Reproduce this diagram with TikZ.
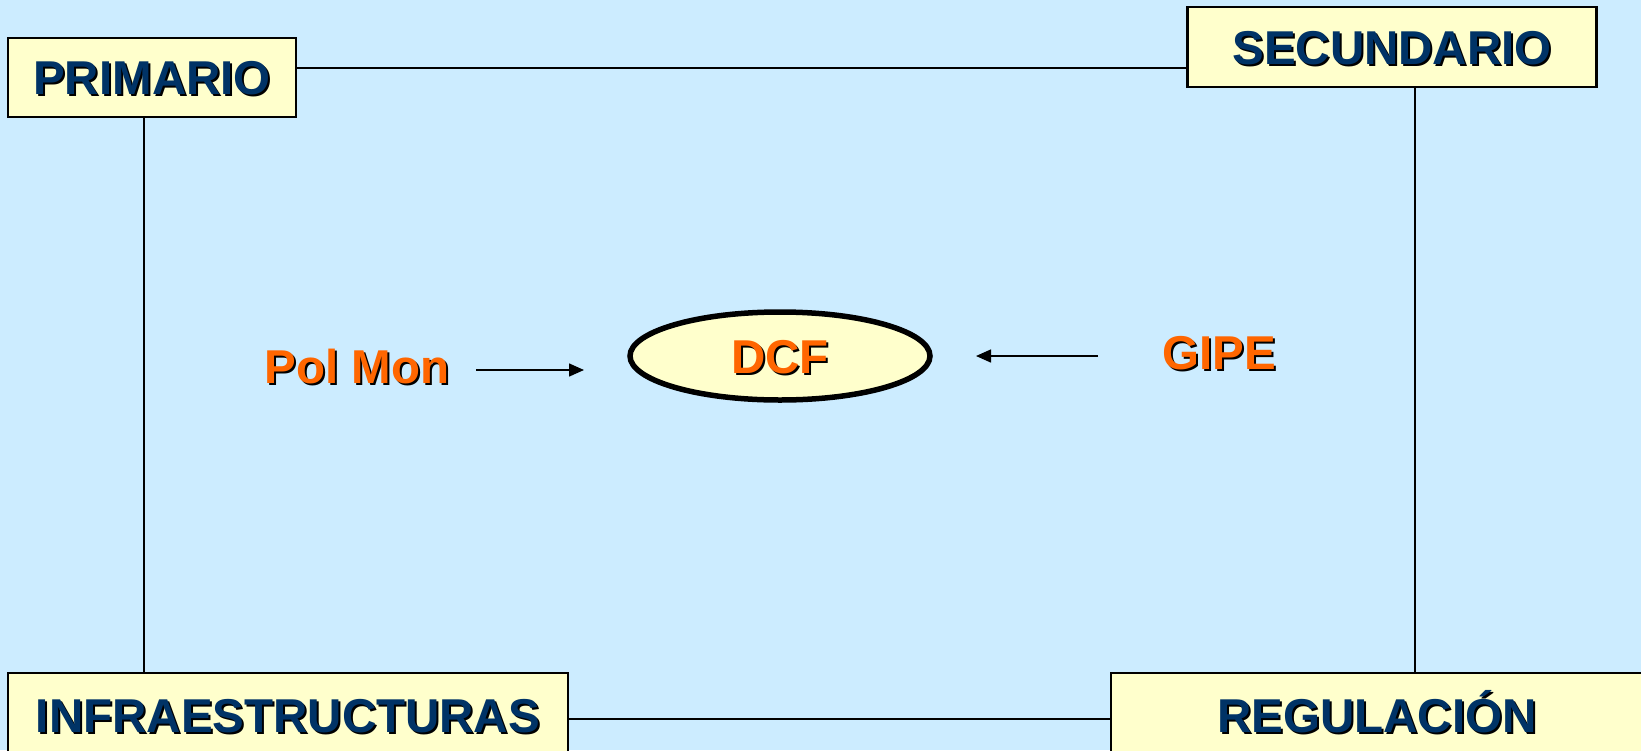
\documentclass[tikz,border=0pt]{standalone}
\usepackage{fontspec}
\setmainfont{Liberation Sans}
\usetikzlibrary{shapes.geometric,arrows.meta}
\definecolor{bgblue}{HTML}{CCECFF}
\definecolor{boxfill}{HTML}{FFFFCC}
\definecolor{navy}{HTML}{003366}
\definecolor{orng}{HTML}{FF6600}
\newcommand\shd[1]{\rlap{\kern2pt\raisebox{-2pt}{\color{black}#1}}#1}
\tikzset{
  lbl/.style={font=\fontsize{47.5}{57}\selectfont\bfseries, inner sep=0pt, text height=34pt, text depth=0pt},
  boxnode/.style={lbl, draw=black, line width=2.6pt, fill=boxfill, text=navy},
  orlbl/.style={lbl, text=orng},
  conn/.style={draw=black, line width=2pt},
  arr/.style={draw=black, line width=1.5pt, -{Triangle[length=15pt,width=13pt]}}
}
\begin{document}
\begin{tikzpicture}[x=1pt,y=-1pt]
\useasboundingbox (0,0) rectangle (1641,750);
\clip (0,0) rectangle (1641,750);
\fill[bgblue] (0,0) rectangle (1641,750);

\node[boxnode, minimum width=288pt, minimum height=79pt] (prim) at (152,77.5) {\shd{PRIMARIO}};
\node[boxnode, minimum width=409pt, minimum height=80pt] (sec) at (1392,47) {\shd{SECUNDARIO}};
\node[boxnode, minimum width=560pt, minimum height=84pt] (infra) at (288,715) {\shd{INFRAESTRUCTURAS}};
\node[boxnode, minimum width=532pt, minimum height=84pt] (reg) at (1377,715) {\shd{REGULACIÓN}};

\node[lbl, ellipse, draw=black, line width=5.5pt, fill=boxfill, text=orng, minimum width=300pt, minimum height=88pt] (dcf) at (780,356) {\shd{DCF}};
\node[orlbl] (polmon) at (357,366) {\shd{Pol Mon}};
\node[orlbl] (gipe) at (1219,352) {\shd{GIPE}};

\draw[conn] (prim.east |- 0,68) -- (sec.west |- 0,68);
\draw[conn] (prim.south -| 144,0) -- (infra.north -| 144,0);
\draw[conn] (sec.south -| 1415,0) -- (reg.north -| 1415,0);
\draw[conn] (infra.east |- 0,719) -- (reg.west |- 0,719);

\coordinate (pa) at (476,370);
\coordinate (pb) at (584,370);
\coordinate (ga) at (1098,356);
\coordinate (gb) at (976,356);
\draw[arr] (pa) -- (pb);
\draw[arr] (ga) -- (gb);
\end{tikzpicture}
\end{document}
